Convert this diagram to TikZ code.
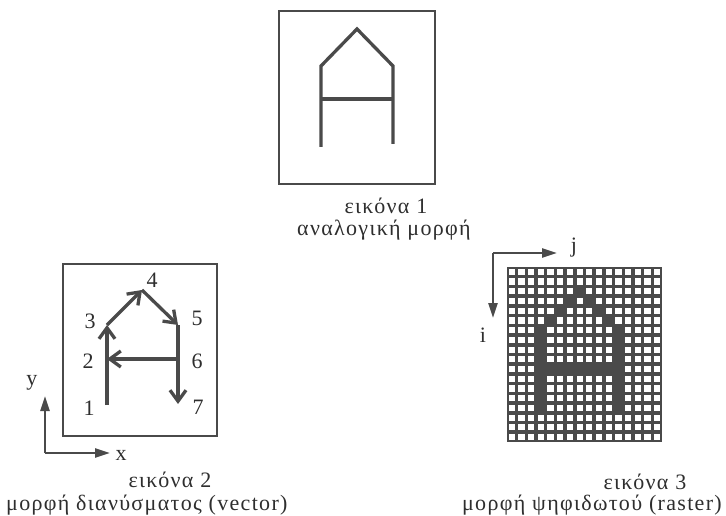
\documentclass[tikz,border=0pt]{standalone}
\usepackage{fontspec}
\setmainfont{Liberation Serif}[LetterSpace=6]
\usetikzlibrary{arrows.meta}
\definecolor{ink}{HTML}{4A4A4A}
\definecolor{txt}{HTML}{2E2E2E}

\begin{document}
\begin{tikzpicture}[
  x=1pt, y=-1pt,
  frame/.style={draw=ink, line width=2.6pt},
  stroke/.style={draw=ink, line width=3.3pt},
  vec/.style={stroke, -{Straight Barb[length=11pt, width=16pt]}},
  axis/.style={draw=ink, line width=2.4pt, -{Triangle[length=15pt, width=9pt]}},
  lbl/.style={text=txt, font=\fontsize{22}{24}\selectfont, inner sep=0pt}
]
  \useasboundingbox (0,0) rectangle (726,516);

  % εικόνα 1: αναλογική μορφή
  \draw[frame] (279,11) rectangle (435,184);
  \coordinate (lb) at (321,147);
  \coordinate (lt) at (321,66);
  \coordinate (pk) at (357,29);
  \coordinate (rt) at (393,66);
  \coordinate (rb) at (393,144);
  \coordinate (ml) at (321,99);
  \coordinate (mr) at (393,99);
  \draw[stroke] (lb) -- (lt) -- (pk) -- (rt) -- (rb);
  \draw[stroke] (ml) -- (mr);
  \node[lbl, anchor=base] (cap1a) at (386,213) {εικόνα 1};
  \node[lbl, anchor=base] (cap1b) at (384,236) {αναλογική μορφή};

  % εικόνα 2: μορφή διανύσματος
  \draw[frame] (63,264) rectangle (217,436);
  \coordinate (p1) at (107,405);
  \coordinate (p2) at (107,359);
  \coordinate (p3) at (107,325);
  \coordinate (p4) at (142,290);
  \coordinate (p5) at (178,325);
  \coordinate (p6) at (178,359);
  \coordinate (p7) at (178,404);
  \draw[vec] (p1) -- (p3);
  \draw[vec] (p3) -- (p4);
  \draw[vec] (p4) -- (p5);
  \draw[vec] (p5) -- (p7);
  \draw[vec] (p6) -- (p2);
  \node[lbl] (n1) at (89,408) {1};
  \node[lbl] (n2) at (88,361) {2};
  \node[lbl] (n3) at (90,321) {3};
  \node[lbl] (n4) at (152,280) {4};
  \node[lbl] (n5) at (197,318) {5};
  \node[lbl] (n6) at (197,361) {6};
  \node[lbl] (n7) at (198,407) {7};
  % άξονες x, y
  \coordinate (o2) at (45,453);
  \coordinate (ye) at (45,396);
  \coordinate (xe) at (110,453);
  \draw[axis] (o2) -- (ye);
  \draw[axis] (o2) -- (xe);
  \node[lbl] (ylab) at (32,383) {y};
  \node[lbl] (xlab) at (121,455) {x};
  \node[lbl, anchor=base] (cap2a) at (170,487) {εικόνα 2};
  \node[lbl, anchor=base west] (cap2b) at (6,510) {μορφή διανύσματος (vector)};

  % εικόνα 3: μορφή ψηφιδωτού
  \begin{scope}[shift={(507,267)}, x=9.6875pt, y=-9.72pt]
    \fill[ink] (0,0) rectangle (16,18);
    \foreach \r in {0,...,17}
      \foreach \c in {0,...,15}
        \fill[white] (\c+0.18,\r+0.18) rectangle (\c+0.82,\r+0.82);
    % γεμάτα εικονοστοιχεία
    \foreach \r/\c in {2/7,3/6,3/8,4/5,4/9,5/4,5/10}
      \fill[ink] (\c,\r) rectangle ++(1,1);
    \foreach \r in {6,...,14} {
      \fill[ink] (3,\r) rectangle ++(1,1);
      \fill[ink] (11,\r) rectangle ++(1,1);
    }
    \foreach \c in {4,...,10}
      \fill[ink] (\c,10) rectangle ++(1,1);
  \end{scope}
  % άξονες i, j
  \coordinate (o3) at (493,253);
  \coordinate (je) at (557,253);
  \coordinate (ie) at (493,318);
  \draw[axis] (o3) -- (je);
  \draw[axis] (o3) -- (ie);
  \node[lbl] (jlab) at (574,248) {j};
  \node[lbl] (ilab) at (483,335) {i};
  \node[lbl, anchor=base] (cap3a) at (645,489) {εικόνα 3};
  \node[lbl, anchor=base east] (cap3b) at (722,510) {μορφή ψηφιδωτού (raster)};
\end{tikzpicture}
\end{document}
